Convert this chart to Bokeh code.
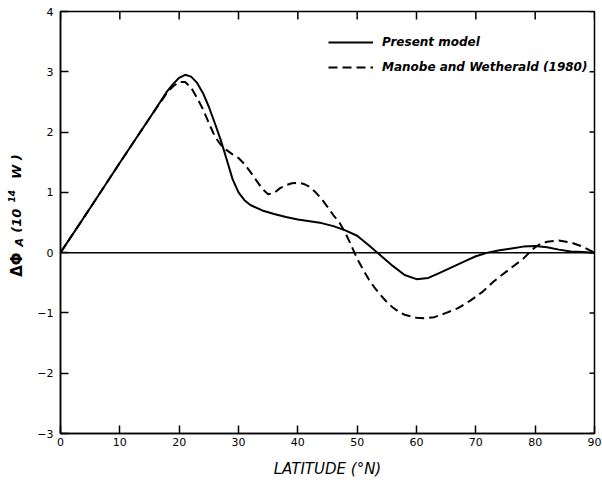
from math import pi
from bokeh.plotting import figure
from bokeh.layouts import row
from bokeh.models import (Range1d, FixedTicker, Span, Legend, LegendItem, Label)
from bokeh.embed import file_html
from bokeh.resources import INLINE

# ---- data ----
latitude_present = [0, 5, 10, 15, 18, 19, 20, 21, 22, 23, 24, 25, 26, 27, 28,
                    29, 30, 31, 32, 34, 36, 38, 40, 42, 44, 46, 48, 50, 52,
                    54, 56, 58, 60, 62, 64, 66, 68, 70, 72, 74, 76, 78, 80,
                    82, 84, 86, 88, 90]
dphi_present = [0.00, 0.74, 1.49, 2.23, 2.68, 2.80, 2.90, 2.95, 2.92, 2.82,
                2.65, 2.42, 2.15, 1.87, 1.55, 1.22, 1.00, 0.87, 0.79, 0.70,
                0.64, 0.59, 0.55, 0.52, 0.49, 0.44, 0.37, 0.28, 0.12, -0.05,
                -0.22, -0.37, -0.44, -0.42, -0.33, -0.24, -0.15, -0.06, 0.00,
                0.04, 0.07, 0.10, 0.11, 0.09, 0.05, 0.02, 0.01, 0.00]

latitude_mw = [0, 5, 10, 15, 18, 19, 20, 21, 22, 23, 24, 25, 26, 27, 28, 29,
               30, 31, 32, 33, 34, 35, 36, 37, 38, 39, 40, 41, 42, 43, 44, 45,
               46, 47, 48, 49, 50, 51, 52, 53, 54, 55, 56, 57, 58, 60, 61.5,
               63, 65, 67, 69, 71, 72, 73, 74, 76, 78, 79, 80, 81, 82, 84, 86,
               88, 90]
dphi_mw = [0.00, 0.74, 1.49, 2.23, 2.66, 2.76, 2.83, 2.83, 2.74, 2.57, 2.38,
           2.15, 1.93, 1.79, 1.70, 1.63, 1.57, 1.47, 1.34, 1.20, 1.06, 0.97,
           0.99, 1.07, 1.12, 1.15, 1.16, 1.14, 1.09, 1.00, 0.89, 0.76, 0.62,
           0.50, 0.33, 0.12, -0.10, -0.28, -0.45, -0.59, -0.71, -0.82, -0.91,
           -0.98, -1.03, -1.08, -1.09, -1.07, -1.00, -0.92, -0.80, -0.66,
           -0.57, -0.48, -0.40, -0.25, -0.10, 0.00, 0.09, 0.15, 0.18, 0.20,
           0.17, 0.10, 0.00]

x_ticks = [0, 10, 20, 30, 40, 50, 60, 70, 80, 90]
y_ticks = [-3, -2, -1, 0, 1, 2, 3, 4]
legend_labels = ["Present model", "Manobe and Wetherald (1980)"]
x_title = "LATITUDE (°N)"
y_title_parts = ["ΔΦ", "A", "(10", "14", "W )"]

TICK_FONT = "DejaVu Sans"
TEXT_FONT = "DejaVu Sans"
X0, X1, Y0, Y1 = 0, 90, -3, 4
STRIP_W, H = 34, 480

# ---------------- main chart ----------------
p = figure(width=602 - STRIP_W, height=H, x_range=Range1d(X0, X1),
           y_range=Range1d(Y0, Y1), output_backend="svg", toolbar_location=None,
           min_border_left=24, min_border_right=8, min_border_top=11,
           min_border_bottom=46)
p.xgrid.visible = False
p.ygrid.visible = False
p.outline_line_color = "black"
p.outline_line_width = 1.5
p.background_fill_color = "white"
p.border_fill_color = "white"

def style_axis(ax, ticks):
    ax.ticker = FixedTicker(ticks=ticks)
    ax.major_tick_in = 8
    ax.major_tick_out = 0
    ax.minor_tick_in = 0
    ax.minor_tick_out = 0
    ax.axis_line_color = "black"
    ax.axis_line_width = 1.5
    ax.major_tick_line_width = 1.5
    ax.major_tick_line_color = "black"
    ax.major_label_text_font = TICK_FONT
    ax.major_label_text_font_size = "11px"
    ax.major_label_text_color = "black"

xb = p.xaxis[0]
style_axis(xb, x_ticks)
xb.major_label_standoff = 4
xb.axis_label = x_title
xb.axis_label_text_font = TEXT_FONT
xb.axis_label_text_font_style = "italic"
xb.axis_label_text_font_size = "15px"
xb.axis_label_text_color = "black"
xb.axis_label_standoff = 11

yl = p.yaxis[0]
style_axis(yl, y_ticks)
yl.major_label_standoff = 7

# inward ticks on the top and right edges (half of each dash is clipped by the frame)
p.scatter(x_ticks, [Y1] * len(x_ticks), marker="dash", angle=pi / 2, size=16,
          line_color="black", line_width=1.5)
p.scatter([X1] * len(y_ticks), y_ticks, marker="dash", size=10,
          line_color="black", line_width=1.5)

p.add_layout(Span(location=0, dimension="width", line_color="black", line_width=1.5))

r1 = p.line(latitude_present, dphi_present, line_color="black", line_width=2)
r2 = p.line(latitude_mw, dphi_mw, line_color="black", line_width=2,
            line_dash="9 5")

legend = Legend(items=[LegendItem(label=legend_labels[0], renderers=[r1]),
                       LegendItem(label=legend_labels[1], renderers=[r2])],
                location=(268, 356), orientation="vertical",
                glyph_width=45, glyph_height=20, label_height=20,
                label_standoff=9, spacing=5, padding=0, margin=0,
                border_line_color=None, background_fill_alpha=0,
                label_text_font=TEXT_FONT, label_text_font_style="bold italic",
                label_text_font_size="12px", label_text_color="black")
p.add_layout(legend)

# ---------------- strip holding the y-axis title ----------------
# shares the chart's y range (the row aligns both frames), x in pixels
strip = figure(width=STRIP_W, height=H, x_range=Range1d(0, STRIP_W),
               y_range=p.y_range, output_backend="svg",
               toolbar_location=None, x_axis_location=None,
               y_axis_location=None, min_border=0)
strip.xgrid.visible = False
strip.ygrid.visible = False
strip.outline_line_color = None
strip.background_fill_color = "white"
strip.border_fill_color = "white"

def ylab(text, sx, yd, size, style="bold italic"):
    strip.add_layout(Label(x=sx, y=yd, text=text, angle=pi / 2,
                           text_align="left", text_baseline="middle",
                           text_font=TEXT_FONT, text_font_style=style,
                           text_font_size=size, text_color="black"))

ylab(y_title_parts[0], 16, -0.40, "15px", "bold")
ylab(y_title_parts[1], 19, 0.10, "11px")
ylab(y_title_parts[2], 16, 0.33, "13px")
ylab(y_title_parts[3], 11, 0.83, "9px")
ylab(y_title_parts[4], 16, 1.22, "13px")

layout = row(strip, p, spacing=0)
open("out.html", "w").write(file_html(layout, INLINE))
